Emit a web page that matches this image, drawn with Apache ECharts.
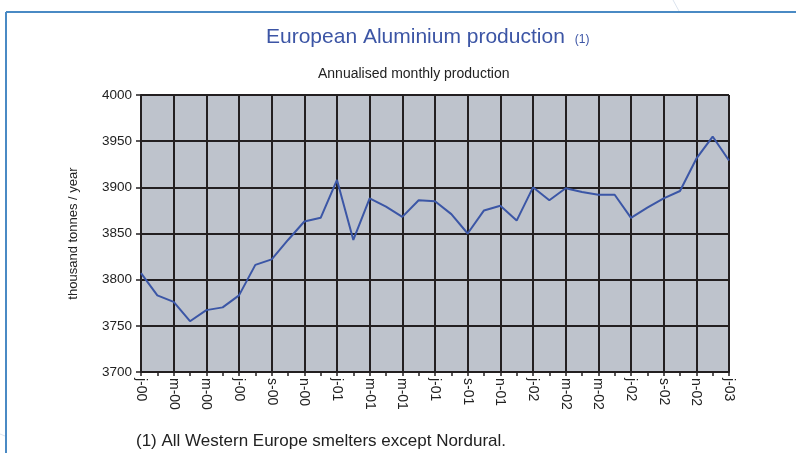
<!DOCTYPE html>
<html>
<head>
<meta charset="utf-8">
<script src="https://cdn.jsdelivr.net/npm/echarts@6/dist/echarts.min.js"></script>
<style>
html,body{margin:0;padding:0;background:#fff;}
#c{width:796px;height:453px;}
</style>
</head>
<body>
<div id="c"></div>
<script>
// Monthly categories Jan 2000 .. Jan 2003
var months = ['2000-01','2000-02','2000-03','2000-04','2000-05','2000-06','2000-07','2000-08','2000-09','2000-10','2000-11','2000-12',
              '2001-01','2001-02','2001-03','2001-04','2001-05','2001-06','2001-07','2001-08','2001-09','2001-10','2001-11','2001-12',
              '2002-01','2002-02','2002-03','2002-04','2002-05','2002-06','2002-07','2002-08','2002-09','2002-10','2002-11','2002-12',
              '2003-01'];
// Tick labels shown every second month
var tickLabels = ['j-00','m-00','m-00','j-00','s-00','n-00','j-01','m-01','m-01','j-01','s-01','n-01','j-02','m-02','m-02','j-02','s-02','n-02','j-03'];
// Annualised monthly production (thousand tonnes / year)
var production = [3807,3783,3776,3755,3767,3770,3783,3816,3822,3843,3863,3867,
                  3908,3843,3888,3879,3868,3886,3885,3871,3850,3875,3880,3864,
                  3900,3886,3899,3895,3892,3892,3867,3878,3888,3896,3931,3955,
                  3929];
var yTicks = [3700,3750,3800,3850,3900,3950,4000];

var FONT = "'Liberation Sans', Arial, Helvetica, sans-serif";
var chart = echarts.init(document.getElementById('c'), null, {renderer:'canvas'});
chart.setOption({
  backgroundColor:'#ffffff',
  animation:false,
  title:[
    {text:'{a|European Aluminium production}  {b|(1)}', left:266, top:27, padding:0,
     textStyle:{fontWeight:'normal',rich:{a:{fontFamily:FONT,fontSize:21,fontWeight:'normal',color:'#3c55a5'},b:{fontFamily:FONT,fontSize:12,fontWeight:'normal',color:'#3c55a5',padding:[4,0,0,0]}}}},
    {text:'Annualised monthly production', left:318, top:67, padding:0,
     textStyle:{fontFamily:FONT,fontSize:14,fontWeight:'normal',color:'#222'}},
    {text:'(1) All Western Europe smelters except Nordural.', left:136, top:433, padding:0,
     textStyle:{fontFamily:FONT,fontSize:17,fontWeight:'normal',color:'#222'}}
  ],
  graphic:[
    {type:'line', shape:{x1:6,y1:12,x2:796,y2:12}, style:{stroke:'#4a8ac4',lineWidth:2}, silent:true},
    {type:'line', shape:{x1:6,y1:12,x2:6,y2:453}, style:{stroke:'#4a8ac4',lineWidth:2}, silent:true},
    {type:'line', shape:{x1:673,y1:0,x2:679,y2:11}, style:{stroke:'#dbe3ee',lineWidth:1}, silent:true},
    {type:'line', shape:{x1:0,y1:434,x2:5,y2:436}, style:{stroke:'#dbe3ee',lineWidth:1}, silent:true}
  ],
  grid:{left:141, right:67, top:95, bottom:81, show:true, backgroundColor:'#bec3cc', borderWidth:0},
  xAxis:{
    type:'category', data:months, boundaryGap:false,
    axisLine:{lineStyle:{color:'#231f20',width:2}},
    axisTick:{show:true, interval:0, length:4, lineStyle:{color:'#231f20',width:1.5}},
    axisLabel:{interval:1, rotate:-90, margin:6, fontFamily:FONT, fontSize:14, color:'#222',
      formatter:function(v,i){return tickLabels[i/2];}},
    splitLine:{show:true, interval:1, lineStyle:{color:'#231f20',width:2}}
  },
  yAxis:{
    type:'value', min:yTicks[0], max:yTicks[yTicks.length-1], interval:50,
    name:'thousand tonnes / year', nameLocation:'middle', nameRotate:90, nameGap:61,
    nameTextStyle:{fontFamily:FONT,fontSize:13,color:'#222'},
    axisLine:{show:true, lineStyle:{color:'#231f20',width:2}},
    axisTick:{show:true, length:5, lineStyle:{color:'#231f20',width:1.5}},
    axisLabel:{margin:9, fontFamily:FONT, fontSize:13.5, color:'#222',
      formatter:function(v){return String(v);}},
    splitLine:{show:true, lineStyle:{color:'#231f20',width:2}}
  },
  series:[{
    type:'line', data:production, symbol:'none', smooth:false,
    lineStyle:{color:'#3b56a6', width:2}
  }]
});
</script>
</body>
</html>
